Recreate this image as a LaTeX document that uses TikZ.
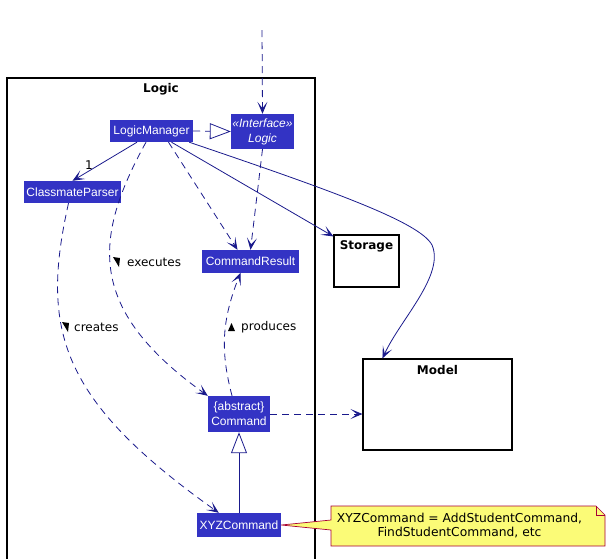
\documentclass[tikz,border=0pt]{standalone}
\usepackage{fontspec}
\setmainfont{DejaVu Sans}
\newfontfamily\nodefont{Liberation Sans}
\usetikzlibrary{arrows.meta,calc}
\definecolor{cls}{HTML}{3333C4}
\definecolor{edge}{HTML}{1A1A8C}
\definecolor{notefill}{HTML}{FBFB77}
\definecolor{noteline}{HTML}{A80036}
\tikzset{
  cls/.style={fill=cls,draw=none,text=white,inner sep=0pt,align=center,font=\nodefont\fontsize{12}{14}\selectfont},
  box/.style={draw=black,line width=1.1pt,inner sep=0pt},
  title/.style={font=\bfseries\fontsize{12}{14}\selectfont},
  lbl/.style={font=\fontsize{12}{14}\selectfont,inner sep=0pt,anchor=west},
  ahead/.style={-{Stealth[length=12pt,width=10pt,inset=6.5pt]}},
  assoc/.style={draw=edge,line width=0.8pt,ahead},
  dep/.style={draw=edge,line width=0.8pt,dash pattern=on 7pt off 5pt,ahead},
  real/.style={draw=edge,line width=0.8pt,dash pattern=on 7pt off 5pt,-{Triangle[open,length=21pt,width=16pt]}},
  gen/.style={draw=edge,line width=0.8pt,-{Triangle[open,length=21pt,width=16pt]}},
}
\begin{document}
\begin{tikzpicture}[x=1pt,y=-1pt]
\useasboundingbox (0,0) rectangle (609,558);
% package Logic
\draw[line width=1.1pt] (7,559) -- (7,78) -- (315,78) -- (315,559);
\node[title] (logictitle) at (161,89) {Logic};
% classes
\node[cls,minimum width=83pt,minimum height=22pt] (lm) at (151.5,131) {LogicManager};
\node[cls,minimum width=63pt,minimum height=35pt,font=\nodefont\itshape\fontsize{12}{15}\selectfont] (logic) at (262.5,131.5) {«Interface»\\Logic};
\node[cls,minimum width=97pt,minimum height=22pt] (cp) at (72.5,192) {ClassmateParser};
\node[cls,minimum width=97pt,minimum height=23pt] (cr) at (250.5,261.5) {CommandResult};
\node[cls,minimum width=62pt,minimum height=36pt,font=\nodefont\fontsize{12}{15}\selectfont] (cmd) at (239,414) {\{abstract\}\\Command};
\node[cls,minimum width=84pt,minimum height=24pt] (xyz) at (239,525) {XYZCommand};
% other packages
\node[box,minimum width=65pt,minimum height=52pt] (storage) at (366.5,261) {};
\node[title] (storagetitle) at (366.5,246) {Storage};
\node[box,minimum width=149pt,minimum height=91pt] (model) at (437.5,404.5) {};
\node[title] (modeltitle) at (437.5,370) {Model};
% note
\draw[fill=notefill,draw=noteline,line width=0.7pt] (331,506) -- (596,506) -- (605,515) -- (605,546) -- (331,546) -- (331,530) -- (xyz.east) -- (331,520) -- cycle;
\draw[draw=noteline,line width=0.7pt] (596,506) -- (596,515) -- (605,515);
\node[font=\fontsize{12.3}{14}\selectfont,align=center,inner sep=0pt] (note) at (459.5,526) {XYZCommand = AddStudentCommand,\\FindStudentCommand, etc};
% connectors
\coordinate (top) at (262,30);
\draw[dep] (top) -- (logic.north);
\draw[real] (lm.east) -- (logic.west);
\draw[assoc] ($(lm.south)+(-14.5,0)$) -- (cp.north);
\node[font=\fontsize{12}{14}\selectfont,inner sep=0pt] (one) at (89,165) {1};
\draw[dep] ($(lm.south)+(17,0)$) -- ($(cr.north)+(-13,0)$);
\draw[dep] (logic.south) -- (cr.north);
\draw[assoc] ($(lm.south)+(20,0)$) -- ($(storage.north west)+(0,2)$);
\draw[assoc] ($(lm.south east)+(-4,0)$) .. controls (330,190) and (420,222) .. (432,245) .. controls (445,275) and (400,320) .. ($(model.north west)+(20,0)$);
% executes
\draw[dep] ($(lm.south)+(-5.5,0)$) .. controls (92,240) and (88,310) .. ($(cmd.north west)+(0,0)$);
\fill (113,257) -- (120,258) -- (119,267) -- cycle;
\node[lbl] (exec) at (127,262) {executes};
% creates
\draw[dep] ($(cp.south)+(-4,0)$) .. controls (40,330) and (60,400) .. ($(xyz.north west)+(22,0)$);
\fill (62,322) -- (69,323) -- (68,332) -- cycle;
\node[lbl] (creates) at (74,327) {creates};
% produces
\draw[dep] ($(cmd.north)+(-7,0)$) .. controls (220,350) and (222,320) .. ($(cr.north)+(-10,23)$);
\fill (228,331) -- (235,331) -- (231.5,323) -- cycle;
\node[lbl] (prod) at (241,327) {produces};
% command -> model
\draw[dep] (cmd.east) -- (model.west |- cmd.east);
% xyz -> command
\draw[gen] (xyz.north) -- (cmd.south);
\end{tikzpicture}
\end{document}
